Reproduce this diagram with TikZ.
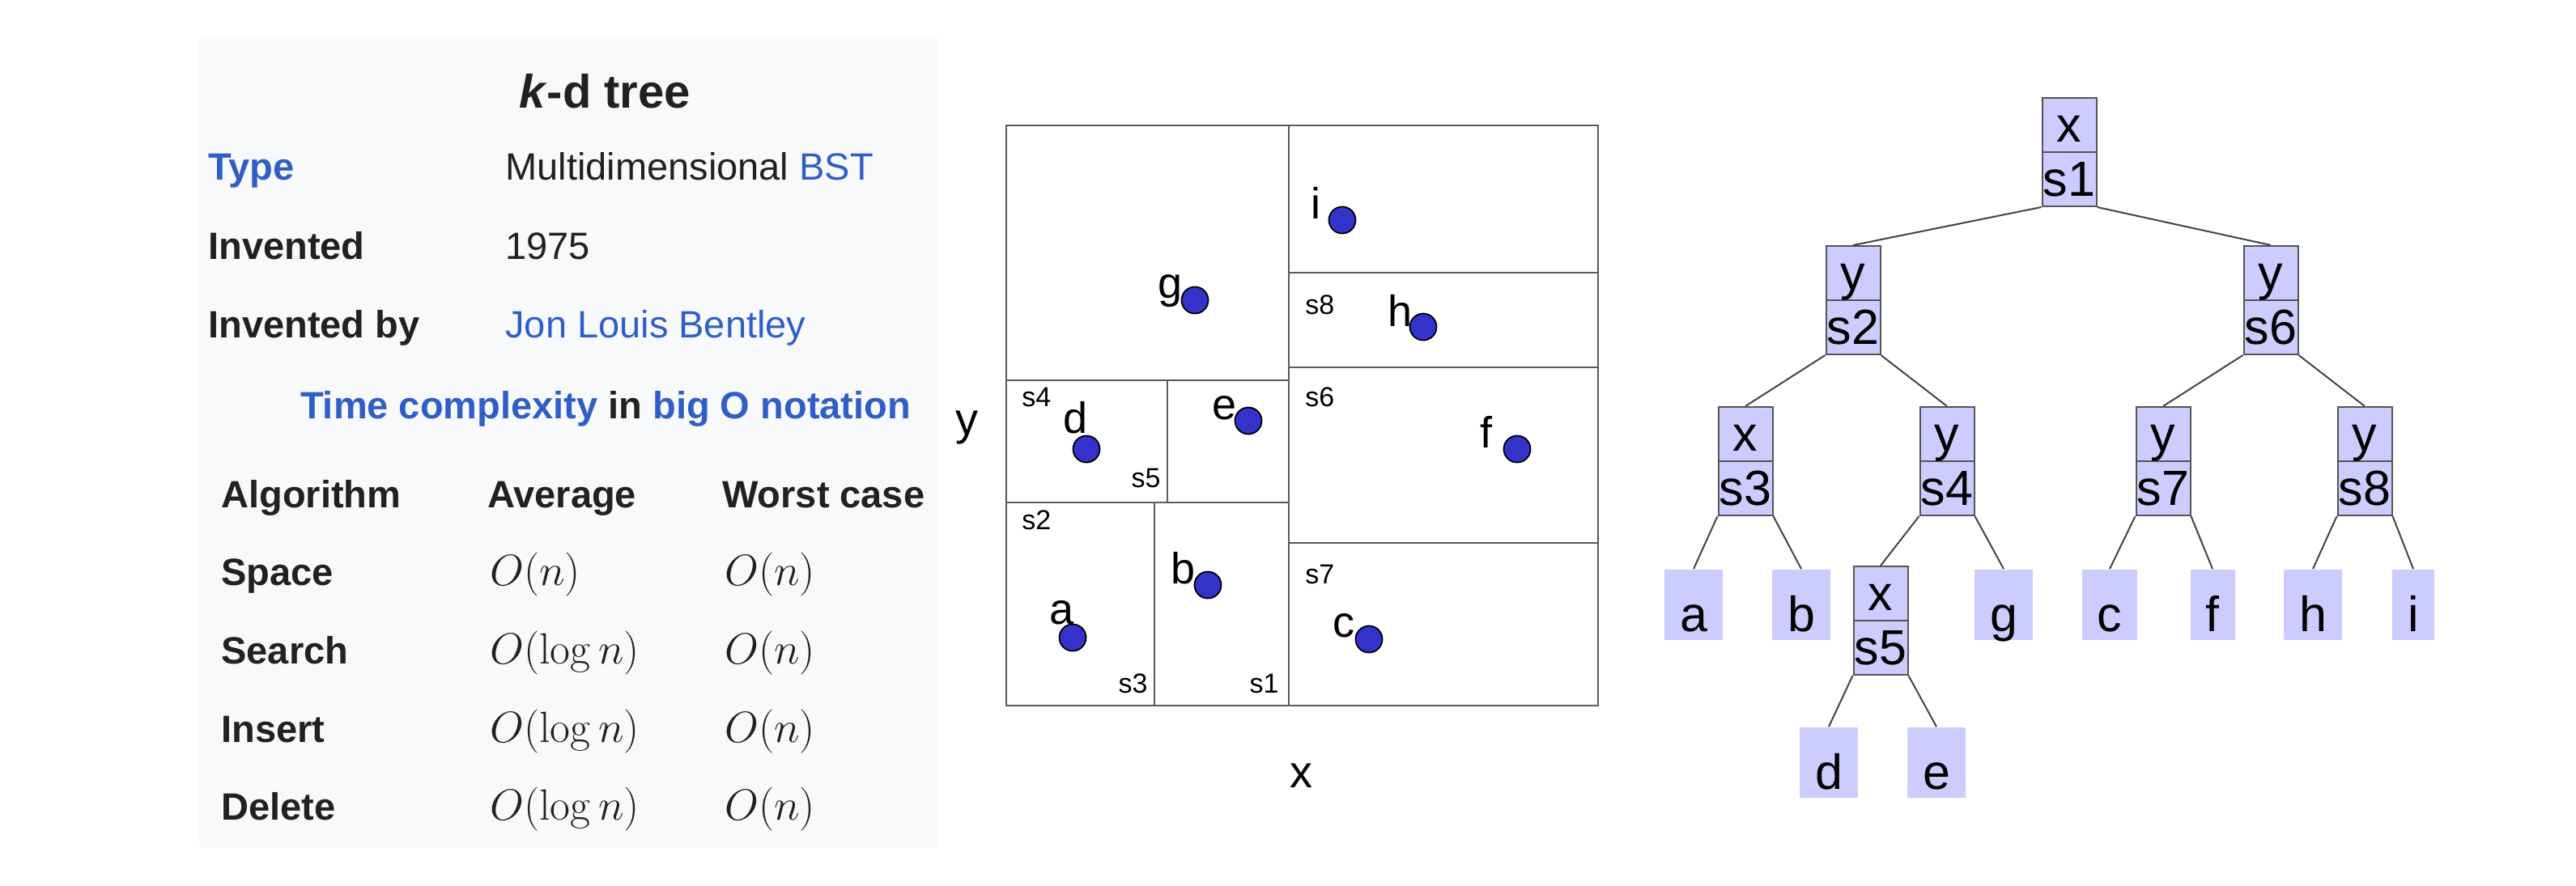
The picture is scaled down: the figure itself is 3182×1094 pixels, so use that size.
\documentclass[tikz,border=0pt]{standalone}
\usepackage{fix-cm}
\usepackage[no-math]{fontspec}
\setmainfont{Liberation Sans}
\usetikzlibrary{calc}
\definecolor{link}{HTML}{2F5FC6}
\definecolor{ink}{HTML}{202122}
\definecolor{infobg}{HTML}{F8F9FA}
\definecolor{lav}{HTML}{CCCCFF}
\definecolor{dotblue}{HTML}{3333CC}
\definecolor{partline}{HTML}{5A5A5A}
\definecolor{boxline}{HTML}{555555}
\definecolor{edgeline}{HTML}{444444}
\newcommand\kdnode[5]{%
  \node[inode] (#1) at (#2,#3) {};
  \draw[divider] (#1.west) -- (#1.east);
  \node[tlab] (#1a) at ($(#1.center)+(0,-13)$) {#4};
  \node[tlab] (#1b) at ($(#1.center)+(0,54)$) {#5};
}
\begin{document}
\begin{tikzpicture}[x=0.5pt,y=-0.5pt,
  txt/.style={inner sep=0pt, anchor=base west, text=ink, font=\fontsize{23.5}{28}\selectfont},
  btxt/.style={txt, font=\fontsize{23.5}{28}\selectfont\bfseries},
  mtxt/.style={inner sep=0pt, anchor=base west, text=ink, font=\fontsize{27}{32}\selectfont},
  part/.style={draw=partline, line width=1.4pt},
  pt/.style={circle, fill=dotblue, draw=black, line width=0.9pt, minimum size=16.5pt, inner sep=0pt},
  ptlab/.style={inner sep=0pt, anchor=base west, font=\fontsize{27}{32}\selectfont},
  slab/.style={inner sep=0pt, font=\fontsize{17}{20}\selectfont},
  axlab/.style={inner sep=0pt, anchor=base, font=\fontsize{28}{33}\selectfont},
  inode/.style={draw=boxline, fill=lav, line width=1pt, minimum width=33.5pt, minimum height=67pt, inner sep=0pt},
  divider/.style={draw=boxline, line width=1pt},
  tlab/.style={anchor=base, inner sep=0pt, font=\fontsize{30.5}{36}\selectfont},
  leaf/.style={fill=lav, inner xsep=9.5pt, inner ysep=0pt, text height=38.5pt, text depth=5pt, font=\fontsize{30.5}{36}\selectfont},
  edge/.style={draw=edgeline, line width=1pt}
]
\fill[white] (0,0) rectangle (3182,1094);
\useasboundingbox (0,0) rectangle (3182,1094);

% ---------- left panel: infobox ----------
\fill[infobg] (246,48) rectangle (1159,1047);
\node[inner sep=0pt, anchor=base, text=ink, font=\fontsize{29}{34}\selectfont\bfseries] (title) at (747,133) {\textit{k}-d tree};
\node[btxt, text=link] (typek) at (257,222) {Type};
\node[txt] (typev) at (624,222) {Multidimensional \textcolor{link}{BST}};
\node[btxt] (invk) at (257,320) {Invented};
\node[txt] (invv) at (624,320) {1975};
\node[btxt] (bykey) at (257,417) {Invented by};
\node[txt, text=link] (byval) at (624,417) {Jon Louis Bentley};
\node[btxt, anchor=base] (tcx) at (748,517) {\textcolor{link}{Time complexity} in \textcolor{link}{big O notation}};
\node[btxt] (h1) at (273,627) {Algorithm};
\node[btxt] (h2) at (602,627) {Average};
\node[btxt] (h3) at (892,627) {Worst case};
\node[btxt] (r1) at (273,723) {Space};
\node[mtxt] (r1a) at (605,723) {$O(n)$};
\node[mtxt] (r1w) at (895,723) {$O(n)$};
\node[btxt] (r2) at (273,820) {Search};
\node[mtxt] (r2a) at (605,820) {$O(\log n)$};
\node[mtxt] (r2w) at (895,820) {$O(n)$};
\node[btxt] (r3) at (273,917) {Insert};
\node[mtxt] (r3a) at (605,917) {$O(\log n)$};
\node[mtxt] (r3w) at (895,917) {$O(n)$};
\node[btxt] (r4) at (273,1013) {Delete};
\node[mtxt] (r4a) at (605,1013) {$O(\log n)$};
\node[mtxt] (r4w) at (895,1013) {$O(n)$};

% ---------- middle panel: partition ----------
\draw[part] (1243,155) rectangle (1974,872);
\draw[part] (1592,155) -- (1592,872);   % s1
\draw[part] (1243,621) -- (1592,621);   % s2
\draw[part] (1426,621) -- (1426,872);   % s3
\draw[part] (1243,470) -- (1592,470);   % s4
\draw[part] (1442,470) -- (1442,621);   % s5
\draw[part] (1592,454) -- (1974,454);   % s6
\draw[part] (1592,671) -- (1974,671);   % s7
\draw[part] (1592,337) -- (1974,337);   % s8

\node[pt] (pi) at (1658,272) {};
\node[pt] (pg) at (1476,371) {};
\node[pt] (ph) at (1758,404) {};
\node[pt] (pd) at (1342,555) {};
\node[pt] (pe) at (1542,520) {};
\node[pt] (pf) at (1874,555) {};
\node[pt] (pa) at (1325,788) {};
\node[pt] (pb) at (1492,723) {};
\node[pt] (pc) at (1691,790) {};

\node[ptlab] (li) at (1619,270) {i};
\node[ptlab] (lg) at (1430,368) {g};
\node[ptlab] (lh) at (1714,403) {h};
\node[ptlab] (ld) at (1313,535) {d};
\node[ptlab] (le) at (1497,518) {e};
\node[ptlab] (lf) at (1828,553) {f};
\node[ptlab] (la) at (1296,771) {a};
\node[ptlab] (lb) at (1446,721) {b};
\node[ptlab] (lc) at (1646,787) {c};

\node[slab, anchor=base west] (ls8) at (1612,388) {s8};
\node[slab, anchor=base west] (ls6) at (1612,502) {s6};
\node[slab, anchor=base west] (ls7) at (1612,721) {s7};
\node[slab, anchor=base west] (ls4) at (1262,502) {s4};
\node[slab, anchor=base west] (ls2) at (1262,654) {s2};
\node[slab, anchor=base east] (ls5) at (1434,602) {s5};
\node[slab, anchor=base east] (ls3) at (1418,856) {s3};
\node[slab, anchor=base east] (ls1) at (1580,856) {s1};

\node[axlab] (ay) at (1194,537) {y};
\node[axlab] (ax) at (1607,973) {x};

% ---------- right panel: tree ----------
\kdnode{n1}{2556}{188}{x}{s1}
\kdnode{n2}{2289}{371}{y}{s2}
\kdnode{n6}{2805}{371}{y}{s6}
\kdnode{n3}{2156}{570}{x}{s3}
\kdnode{n4}{2405}{570}{y}{s4}
\kdnode{n7}{2672}{570}{y}{s7}
\kdnode{n8}{2921}{570}{y}{s8}
\kdnode{n5}{2323}{767}{x}{s5}

\node[leaf] (ta) at (2092,747) {a};
\node[leaf] (tb) at (2225,747) {b};
\node[leaf] (tg) at (2475,747) {g};
\node[leaf] (tc) at (2606,747) {c};
\node[leaf] (tf) at (2733,747) {f};
\node[leaf] (th) at (2857,747) {h};
\node[leaf] (ti) at (2981,747) {i};
\node[leaf] (td) at (2259,942) {d};
\node[leaf] (te) at (2392,942) {e};

\draw[edge] (n1.south west) -- (n2.north);
\draw[edge] (n1.south east) -- (n6.north);
\draw[edge] (n2.south west) -- (n3.north);
\draw[edge] (n2.south east) -- (n4.north);
\draw[edge] (n6.south west) -- (n7.north);
\draw[edge] (n6.south east) -- (n8.north);
\draw[edge] (n3.south west) -- (ta.north);
\draw[edge] (n3.south east) -- (tb.north);
\draw[edge] (n4.south west) -- (n5.north);
\draw[edge] (n4.south east) -- (tg.north);
\draw[edge] (n7.south west) -- (tc.north);
\draw[edge] (n7.south east) -- (tf.north);
\draw[edge] (n8.south west) -- (th.north);
\draw[edge] (n8.south east) -- (ti.north);
\draw[edge] (n5.south west) -- (td.north);
\draw[edge] (n5.south east) -- (te.north);
\end{tikzpicture}
\end{document}
